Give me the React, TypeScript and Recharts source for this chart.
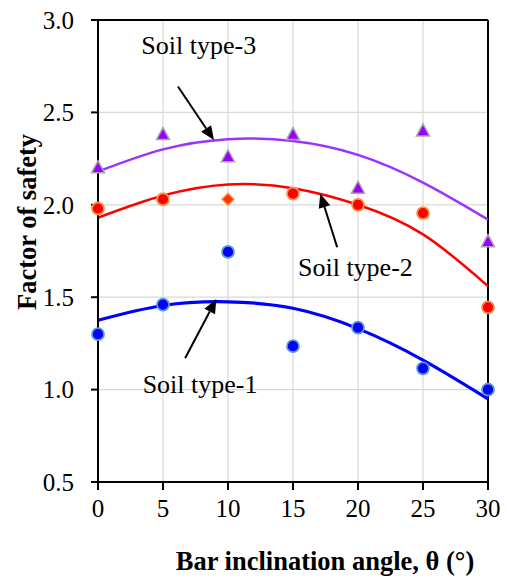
import {
  ComposedChart,
  Scatter,
  Line,
  XAxis,
  YAxis,
  CartesianGrid,
  ReferenceLine,
  ReferenceDot,
  Label,
} from "recharts";

// bar inclination angle (deg)
const angles = [0, 5, 10, 15, 20, 25, 30];

// measured factor of safety
const soil1 = [1.3, 1.46, 1.745, 1.235, 1.335, 1.115, 1.0];
const soil2 = [1.98, 2.03, 2.03, 2.06, 2.0, 1.955, 1.445];
const soil3 = [2.2, 2.38, 2.26, 2.38, 2.09, 2.4, 1.8];
const soil2Markers = ["circle", "circle", "diamond", "circle", "circle", "circle", "circle"];

// polynomial trend lines, read at each angle
const trend1 = [1.375, 1.455, 1.475, 1.44, 1.33, 1.16, 0.95];
const trend2 = [1.93, 2.05, 2.11, 2.09, 2.0, 1.84, 1.56];
const trend3 = [2.18, 2.3, 2.355, 2.345, 2.27, 2.12, 1.92];

const xTicks = [0, 5, 10, 15, 20, 25, 30];
const yTicks = [0.5, 1.0, 1.5, 2.0, 2.5, 3.0];

const FONT = "'Liberation Serif', 'Times New Roman', serif";

const pts = (ys: number[]) => angles.map((x, i) => ({ x, y: ys[i] }));
const soil2Data = angles.map((x, i) => ({ x, y: soil2[i], marker: soil2Markers[i] }));

const BlueDot = (p: any) => (
  <circle cx={p.cx} cy={p.cy} r={6} fill="#0000FF" stroke="#5B9BD5" strokeWidth={1.8} />
);

const RedDot = (p: any) => {
  if (p.payload && p.payload.marker === "diamond") {
    const s = 6;
    return (
      <polygon
        points={`${p.cx},${p.cy - s} ${p.cx + s},${p.cy} ${p.cx},${p.cy + s} ${p.cx - s},${p.cy}`}
        fill="#FF3300"
        stroke="#F79646"
        strokeWidth={1.5}
      />
    );
  }
  return <circle cx={p.cx} cy={p.cy} r={6} fill="#FF0000" stroke="#F79646" strokeWidth={1.8} />;
};

const Triangle = (p: any) => (
  <polygon
    points={`${p.cx},${p.cy - 7} ${p.cx + 6.5},${p.cy + 5} ${p.cx - 6.5},${p.cy + 5}`}
    fill="#9900FF"
    stroke="#A6A6A6"
    strokeWidth={1.5}
  />
);

const Arrow = (p: any) => {
  const { x1, y1, x2, y2 } = p;
  const a = Math.atan2(y2 - y1, x2 - x1);
  const L = 14;
  const W = 6;
  const bx = x2 - L * Math.cos(a);
  const by = y2 - L * Math.sin(a);
  const px = -Math.sin(a) * W;
  const py = Math.cos(a) * W;
  return (
    <g>
      <line x1={x1} y1={y1} x2={bx} y2={by} stroke="#000" strokeWidth={2} />
      <polygon points={`${x2},${y2} ${bx + px},${by + py} ${bx - px},${by - py}`} fill="#000" />
    </g>
  );
};

const noteText = (text: string) => (p: any) => (
  <text
    x={p.cx}
    y={p.cy}
    textAnchor="middle"
    dominantBaseline="central"
    fontFamily={FONT}
    fontSize={26}
    fill="#000"
  >
    {text}
  </text>
);

const notes = [
  { label: "Soil type-3", at: [7.75, 2.86], from: [6.15, 2.64], to: [8.92, 2.35] },
  { label: "Soil type-2", at: [19.8, 1.66], from: [18.4, 1.77], to: [17.1, 2.06] },
  { label: "Soil type-1", at: [7.85, 1.03], from: [6.7, 1.17], to: [9.1, 1.49] },
];

export default function App() {
  return (
    <div style={{ position: "absolute", left: 0, top: 0, background: "#fff" }}>
      <ComposedChart
        width={507}
        height={578}
        margin={{ top: 20, right: 19, bottom: 0, left: 0 }}
      >
        <CartesianGrid stroke="#D9D9D9" strokeWidth={1.2} />
        <XAxis
          type="number"
          dataKey="x"
          domain={[0, 30]}
          ticks={xTicks}
          height={96}
          stroke="#000"
          strokeWidth={2}
          tickSize={8}
          tickMargin={9}
          tick={{ fill: "#000", fontFamily: FONT, fontSize: 25 }}
          allowDuplicatedCategory={false}
        >
          <Label
            value="Bar inclination angle, θ (°)"
            position="insideBottom"
            offset={8}
            style={{ fontFamily: FONT, fontSize: 26.5, fontWeight: "bold", fill: "#000" }}
            dx={32}
          />
        </XAxis>
        <YAxis
          type="number"
          dataKey="y"
          domain={[0.5, 3]}
          ticks={yTicks}
          width={98}
          stroke="#000"
          strokeWidth={2}
          tickSize={7}
          tickMargin={17}
          tickFormatter={(v: number) => v.toFixed(1)}
          tick={{ fill: "#000", fontFamily: FONT, fontSize: 25 }}
        >
          <Label
            content={(props: any) => {
              const cx = 27;
              const cy = 222;
              return (
                <text
                  x={cx}
                  y={cy}
                  transform={`rotate(-90 ${cx} ${cy})`}
                  textAnchor="middle"
                  dominantBaseline="central"
                  fontFamily={FONT}
                  fontSize={26.5}
                  fontWeight="bold"
                  fill="#000"
                >
                  Factor of safety
                </text>
              );
            }}
          />
        </YAxis>
        <ReferenceLine x={30} stroke="#000" strokeWidth={2} />
        <ReferenceLine y={3} stroke="#000" strokeWidth={2} />

        <Line data={pts(trend3)} dataKey="y" type="natural" stroke="#9933FF" strokeWidth={2.5} dot={false} activeDot={false} isAnimationActive={false} />
        <Line data={pts(trend2)} dataKey="y" type="natural" stroke="#FF0000" strokeWidth={2.5} dot={false} activeDot={false} isAnimationActive={false} />
        <Line data={pts(trend1)} dataKey="y" type="natural" stroke="#0000FF" strokeWidth={3.2} dot={false} activeDot={false} isAnimationActive={false} />

        <Scatter data={pts(soil3)} dataKey="y" shape={Triangle} isAnimationActive={false} />
        <Scatter data={soil2Data} dataKey="y" shape={RedDot} isAnimationActive={false} />
        <Scatter data={pts(soil1)} dataKey="y" shape={BlueDot} isAnimationActive={false} />

        {notes.map((n) => (
          <ReferenceLine
            key={n.label + "-arrow"}
            segment={[
              { x: n.from[0], y: n.from[1] },
              { x: n.to[0], y: n.to[1] },
            ]}
            shape={Arrow}
            ifOverflow="visible"
          />
        ))}
        {notes.map((n) => (
          <ReferenceDot
            key={n.label}
            x={n.at[0]}
            y={n.at[1]}
            r={0}
            shape={noteText(n.label)}
            ifOverflow="visible"
          />
        ))}
      </ComposedChart>
    </div>
  );
}
